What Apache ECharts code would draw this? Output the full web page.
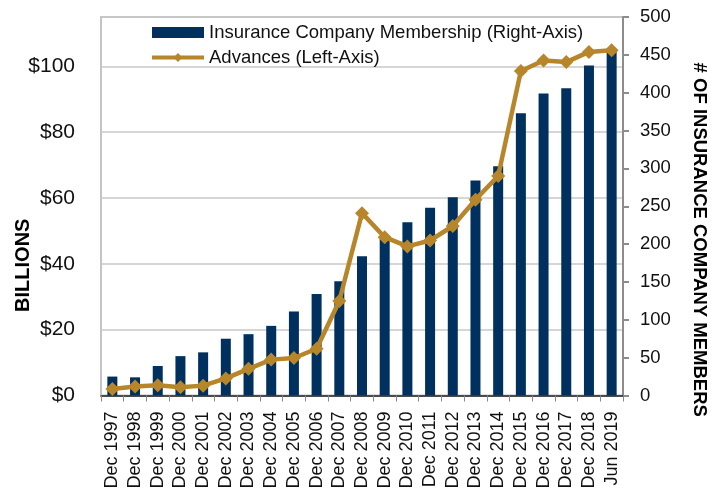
<!DOCTYPE html>
<html style="height: 100%">
<head>
  <meta charset="utf-8" />
  <title>Insurance Company Membership and Advances</title>
  <script src="https://cdn.jsdelivr.net/npm/echarts@6/dist/echarts.min.js"></script>
</head>
<body style="height: 100%; margin: 0; background: #fff">
  <div id="chart" style="width: 717px; height: 497px"></div>
  <script>
    const categories = ['Dec 1997', 'Dec 1998', 'Dec 1999', 'Dec 2000', 'Dec 2001', 'Dec 2002',
      'Dec 2003', 'Dec 2004', 'Dec 2005', 'Dec 2006', 'Dec 2007', 'Dec 2008', 'Dec 2009',
      'Dec 2010', 'Dec 2011', 'Dec 2012', 'Dec 2013', 'Dec 2014', 'Dec 2015', 'Dec 2016',
      'Dec 2017', 'Dec 2018', 'Jun 2019'];
    // number of insurance company members (right axis)
    const members = [25, 24, 39, 52, 57, 75, 81, 92, 111, 134, 151, 184, 210, 229, 248, 262,
      284, 303, 373, 399, 406, 436, 454];
    // advances in $ billions (left axis)
    const advances = [2.0, 2.7, 3.1, 2.5, 3.0, 5.2, 8.1, 10.9, 11.4, 14.2, 28.7, 55.4, 48.1,
      45.3, 47.1, 51.5, 59.5, 66.7, 98.6, 101.8, 101.3, 104.4, 104.9];

    const font = 'Liberation Sans, Arial, sans-serif';
    const gold = '#b8862a';
    const chart = echarts.init(document.getElementById('chart'));

    chart.setOption({
      animation: false,
      backgroundColor: '#fff',
      textStyle: { fontFamily: font, color: '#000' },
      grid: {
        left: 101, right: 94, top: 17, bottom: 101.5,
        outerBoundsMode: 'none',
        containLabel: false,
        show: true, borderColor: '#c4c4c4', borderWidth: 2
      },
      legend: {
        orient: 'vertical',
        left: 145,
        top: 18,
        itemWidth: 52,
        itemHeight: 11,
        itemGap: 6,
        textStyle: { fontSize: 18.5, color: '#111', fontFamily: font },
        data: [
          { name: 'Insurance Company Membership (Right-Axis)', icon: 'rect' },
          { name: 'Advances (Left-Axis)', lineStyle: { width: 4, color: gold } }
        ]
      },
      xAxis: {
        type: 'category',
        data: categories,
        axisLine: { lineStyle: { color: '#222', width: 1.5 } },
        axisTick: { show: true, length: 6, lineStyle: { color: '#888' } },
        axisLabel: { rotate: 90, fontSize: 18, margin: 16, color: '#111', interval: 0 }
      },
      yAxis: [
        {
          type: 'value',
          min: 0, max: 115, interval: 20,
          position: 'left',
          name: 'BILLIONS',
          nameLocation: 'middle',
          nameRotate: 90,
          nameGap: 68,
          nameMoveOverlap: false,
          nameTextStyle: { fontSize: 20, fontWeight: 'bold', color: '#000', padding: [0, 118, 0, 0] },
          axisLine: { show: false },
          axisTick: { show: false },
          axisLabel: {
            fontSize: 21, margin: 26, color: '#111', showMaxLabel: false,
            formatter: v => '$' + v
          },
          splitLine: { lineStyle: { color: '#c8c8c8', width: 1.5 } }
        },
        {
          type: 'value',
          min: 0, max: 500, interval: 50,
          position: 'right',
          name: '# OF INSURANCE COMPANY MEMBERS',
          nameLocation: 'middle',
          nameRotate: -90,
          nameGap: 67,
          nameMoveOverlap: false,
          nameTextStyle: { fontSize: 18.5, fontWeight: 'bold', color: '#000', padding: [0, 0, 0, 67] },
          axisLine: { show: true, lineStyle: { color: '#8c8c8c', width: 2 } },
          axisTick: { show: true, length: 6, lineStyle: { color: '#8c8c8c', width: 2 } },
          axisLabel: { fontSize: 18.5, margin: 17, color: '#111' },
          splitLine: { show: false }
        }
      ],
      series: [
        {
          name: 'Insurance Company Membership (Right-Axis)',
          type: 'bar',
          yAxisIndex: 1,
          data: members,
          barWidth: 10,
          itemStyle: { color: '#00305e' }
        },
        {
          name: 'Advances (Left-Axis)',
          type: 'line',
          yAxisIndex: 0,
          data: advances,
          symbol: 'diamond',
          symbolSize: 14,
          lineStyle: { color: gold, width: 4.5 },
          itemStyle: { color: gold }
        }
      ]
    });
  </script>
</body>
</html>
